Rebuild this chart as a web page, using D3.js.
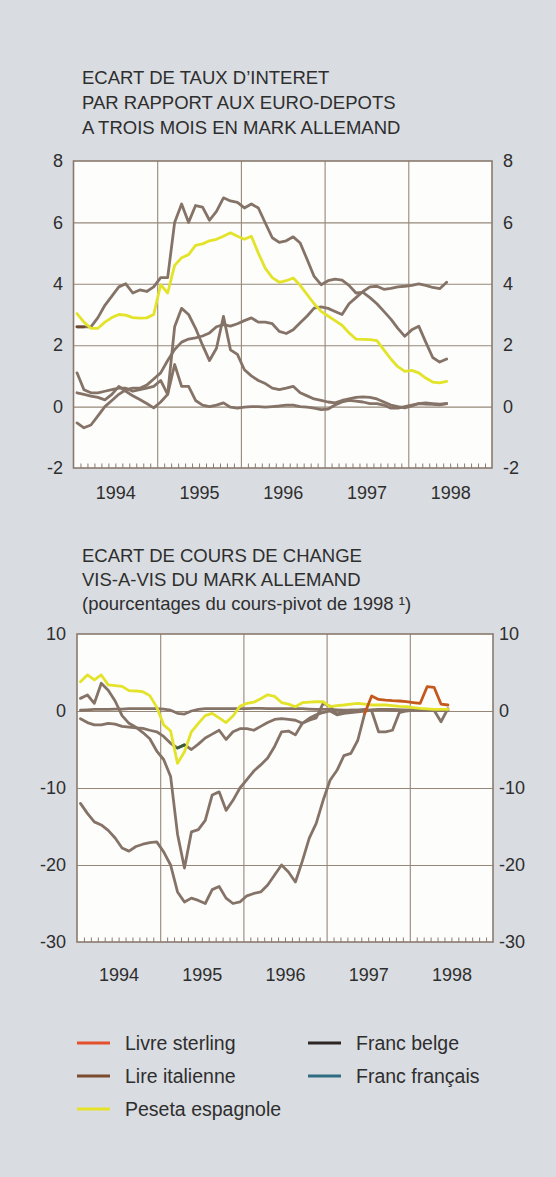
<!DOCTYPE html>
<html><head><meta charset="utf-8">
<script src="https://cdn.jsdelivr.net/npm/d3@7"></script>
<style>
body{margin:0;background:#d9dce1}
svg{display:block}
text{font-family:"Liberation Sans",Arial,Helvetica,sans-serif;fill:#2e2e2e}
</style></head>
<body><svg id="c" width="556" height="1177"></svg>
<script>
// ---------- DATA ----------
const startYear = 1994;
const yearLabels = [1994, 1995, 1996, 1997, 1998];
const topTicks = [8, 6, 4, 2, 0, -2];
const bottomTicks = [10, 0, -10, -20, -30];

const topTitle = ["ECART DE TAUX D\u2019INTERET", "PAR RAPPORT AUX EURO-DEPOTS", "A TROIS MOIS EN MARK ALLEMAND"];
const bottomTitle = ["ECART DE COURS DE CHANGE", "VIS-A-VIS DU MARK ALLEMAND", "(pourcentages du cours-pivot de 1998 \u00B9)"];

// Monthly values, Jan 1994 - Jun 1998
// Interest-rate differentials (percentage points)
const italyRate = [2.6,2.6,2.6,2.9,3.3,3.6,3.9,4.0,3.7,3.8, 3.75,3.9,4.2,4.2,6.0,6.6,6.0,6.55,6.5,6.07, 6.36,6.8,6.7,6.65,6.47,6.6,6.47,5.98,5.5,5.35, 5.4,5.53,5.33,4.79,4.24,3.97,4.1,4.15,4.12,3.95, 3.7,3.72,3.55,3.35,3.1,2.85,2.55,2.29,2.5,2.62, 2.1,1.6,1.45,1.55];
const spainRate = [3.03,2.75,2.55,2.55,2.75,2.9,3.0,2.98,2.9,2.88, 2.89,3.0,3.97,3.7,4.6,4.85,4.95,5.25,5.3,5.4, 5.45,5.55,5.66,5.55,5.45,5.55,5.0,4.5,4.2,4.05, 4.1,4.19,3.95,3.65,3.35,3.1,2.95,2.8,2.65,2.4, 2.2,2.19,2.18,2.15,1.85,1.55,1.3,1.15,1.18,1.1, 0.93,0.8,0.77,0.82];
const ukRate = [-0.53,-0.69,-0.6,-0.3,0.0,0.2,0.4,0.55,0.6,0.6, 0.7,0.9,1.1,1.5,1.86,2.1,2.2,2.24,2.3,2.4, 2.6,2.67,2.62,2.7,2.8,2.89,2.75,2.75,2.7,2.45, 2.38,2.5,2.73,2.95,3.21,3.25,3.2,3.1,3.0,3.35, 3.55,3.75,3.9,3.92,3.82,3.85,3.9,3.92,3.95,4.0, 3.95,3.88,3.84,4.05];
const franceRate = [0.45,0.4,0.34,0.3,0.22,0.4,0.66,0.5,0.35,0.23, 0.1,-0.04,0.15,0.4,2.6,3.2,3.0,2.55,2.0,1.5, 1.9,2.94,1.85,1.7,1.2,1.0,0.85,0.75,0.6,0.55, 0.6,0.66,0.45,0.35,0.25,0.2,0.15,0.12,0.2,0.25, 0.3,0.32,0.3,0.25,0.15,0.05,0.0,-0.04,0.02,0.1, 0.12,0.1,0.08,0.1];
const belgiumRate = [1.1,0.55,0.45,0.45,0.5,0.55,0.6,0.6,0.5,0.55, 0.6,0.66,0.85,0.4,1.37,0.66,0.66,0.2,0.05,0.0, 0.05,0.12,-0.02,-0.05,-0.02,0.0,0.0,-0.02,0.0,0.02, 0.05,0.05,0.0,-0.02,-0.05,-0.1,-0.08,0.05,0.15,0.2, 0.18,0.15,0.1,0.1,0.05,-0.05,-0.05,0.0,0.05,0.1, 0.08,0.07,0.06,0.1];

// Exchange-rate deviations (% of 1998 central rate)
const sterlingFx = [-12,-13.3,-14.4,-14.8,-15.5,-16.5,-17.8,-18.2,-17.6,-17.3, -17.1,-17.0,-18.3,-20.0,-23.5,-24.8,-24.3,-24.6,-25,-23.2, -22.8,-24.3,-25,-24.8,-24.0,-23.7,-23.5,-22.6,-21.3,-20.0, -20.9,-22.2,-19.5,-16.5,-14.6,-11.6,-9.0,-7.7,-5.8,-5.5, -3.8,-0.3,1.95,1.5,1.4,1.34,1.3,1.21,1.1,1.0, 3.16,3.08,0.9,0.78];
const liraFx = [1.64,2.08,1.0,3.6,2.7,1.3,-0.6,-1.6,-2.1,-2.8, -3.6,-5.2,-6.3,-8.5,-16.0,-20.4,-15.7,-15.4,-14.2,-10.9, -10.5,-12.9,-11.6,-10.0,-8.9,-7.8,-7.0,-6.1,-4.6,-2.7, -2.6,-3.1,-1.6,-1.2,-0.9,1.0,0.6,-0.4,0.0,0.1, 0.1,0.2,0.0,-2.7,-2.7,-2.5,-0.2,0.0,0.1,0.2, 0.2,0.1,-1.4,0.3];
const francFx = [-1.0,-1.5,-1.8,-1.8,-1.6,-1.7,-2.0,-2.1,-2.2,-2.25, -2.5,-2.7,-3.3,-4.2,-4.8,-4.4,-5.0,-4.3,-3.5,-3.0, -2.5,-3.7,-2.7,-2.3,-2.3,-2.5,-2.0,-1.5,-1.1,-1.0, -1.1,-1.2,-1.6,-0.95,-0.5,-0.2,0.0,-0.5,-0.3,-0.2, -0.1,0.0,0.1,0.2,0.2,0.2,0.15,0.1,0.1,0.1, 0.1,0.1,0.1,0.1];
const belgeFx = [0.1,0.15,0.2,0.2,0.2,0.25,0.25,0.3,0.3,0.3, 0.3,0.3,0.25,0.1,-0.3,-0.4,0.0,0.2,0.3,0.3, 0.3,0.3,0.3,0.3,0.3,0.35,0.35,0.3,0.3,0.3, 0.3,0.3,0.3,0.25,0.2,0.2,0.2,0.15,0.1,0.1, 0.1,0.1,0.15,0.15,0.15,0.1,0.1,0.1,0.1,0.1, 0.1,0.1,0.1,0.1];
const pesetaFx = [3.8,4.68,4.03,4.68,3.4,3.3,3.2,2.64,2.6,2.5, 2.0,0.5,-1.8,-2.6,-6.8,-5.3,-2.7,-1.6,-0.6,-0.3, -0.9,-1.5,-0.65,0.6,1.0,1.15,1.6,2.1,1.9,1.1, 0.9,0.56,1.08,1.15,1.2,1.2,0.56,0.7,0.78,0.9, 1.0,0.9,0.78,0.78,0.78,0.7,0.6,0.56,0.45,0.35, 0.28,0.22,0.22,0.22];

const legendLabels = ["Livre sterling", "Lire italienne", "Peseta espagnole", "Franc belge", "Franc fran\u00E7ais"];
const legendColors = ["#e4502c", "#7a4b2f", "#e6e22a", "#2d2624", "#2f6c82"];

// ---------- STYLE ----------
const C = {
  bg: "#d9dce1", plot: "#fdfdfc", frame: "#8a7a6e", grid: "#968779",
  line: "#857367", yellow: "#e3e32a", orange: "#c4581d", green: "#3b5a3c", text: "#2e2e2e"
};
const sterlingOrangeFrom = 41;   // index where sterling switches to its printed orange
const francGreen = [13, 16];     // index range where the franc français shows dark green

const svg = d3.select("#c");
svg.append("rect").attr("width", 556).attr("height", 1177).attr("fill", C.bg);

const monthPos = i => startYear + (i + 0.5) / 12;

function title(lines, x, y0, dy) {
  const t = svg.append("g");
  lines.forEach((s, i) => t.append("text").attr("x", x).attr("y", y0 + i * dy)
    .attr("font-size", 18.5).text(s));
}

function panel(cfg) {
  const x = d3.scaleLinear().domain([1994, 1999]).range([cfg.x0, cfg.x1]);
  const y = d3.scaleLinear().domain([cfg.ticks[cfg.ticks.length - 1], cfg.ticks[0]]).range([cfg.y1, cfg.y0]);
  const g = svg.append("g");
  g.append("rect").attr("x", cfg.x0).attr("y", cfg.y0).attr("width", cfg.x1 - cfg.x0)
    .attr("height", cfg.y1 - cfg.y0).attr("fill", C.plot);

  const hg = g.append("g").attr("transform", `translate(${cfg.x0},0)`)
    .call(d3.axisLeft(y).tickValues(cfg.ticks.slice(1, -1)).tickSize(-(cfg.x1 - cfg.x0)).tickFormat(""));
  hg.select(".domain").remove();
  hg.selectAll("line").attr("stroke", C.grid).attr("stroke-width", 1.1);
  const vg = g.append("g").attr("transform", `translate(0,${cfg.y1})`)
    .call(d3.axisBottom(x).tickValues(yearLabels.slice(1)).tickSize(-(cfg.y1 - cfg.y0)).tickFormat(""));
  vg.select(".domain").remove();
  vg.selectAll("line").attr("stroke", C.grid).attr("stroke-width", 1.1);
  const monthTicks = d3.range(1, 60).filter(m => m % 12).map(m => startYear + m / 12);
  const mt = g.append("g").attr("transform", `translate(0,${cfg.y1})`)
    .call(d3.axisTop(x).tickValues(monthTicks).tickSize(4.5).tickFormat(""));
  mt.select(".domain").remove();
  mt.selectAll("line").attr("stroke", C.frame).attr("stroke-width", 1);

  g.append("rect").attr("x", cfg.x0).attr("y", cfg.y0).attr("width", cfg.x1 - cfg.x0)
    .attr("height", cfg.y1 - cfg.y0).attr("fill", "none").attr("stroke", C.frame).attr("stroke-width", 1.6);

  const fmt = d => String(d);
  const la = svg.append("g").attr("transform", `translate(${cfg.x0},0)`)
    .call(d3.axisLeft(y).tickValues(cfg.ticks).tickSize(0).tickPadding(cfg.padL).tickFormat(fmt));
  const ra = svg.append("g").attr("transform", `translate(${cfg.x1},0)`)
    .call(d3.axisRight(y).tickValues(cfg.ticks).tickSize(0).tickPadding(cfg.padR).tickFormat(fmt));
  [la, ra].forEach(a => {
    a.select(".domain").remove();
    a.selectAll("text").attr("font-size", 18).attr("font-family", null).style("fill", C.text);
  });
  const xa = svg.append("g").attr("transform", `translate(0,${cfg.y1})`)
    .call(d3.axisBottom(x).tickValues(yearLabels.map(v => v + 0.5)).tickSize(0)
      .tickPadding(cfg.padB).tickFormat(d => String(Math.floor(d))));
  xa.select(".domain").remove();
  xa.selectAll("text").attr("font-size", 18).attr("font-family", null).style("fill", C.text);

  return { x, y, g };
}

function drawLine(p, values, color, from, to, width) {
  const idx = d3.range(from ?? 0, (to ?? values.length - 1) + 1);
  const line = d3.line().x(i => p.x(monthPos(i))).y(i => p.y(values[i])).curve(d3.curveLinear);
  svg.append("path").datum(idx).attr("d", line).attr("fill", "none")
    .attr("stroke", color).attr("stroke-width", width || 2.8)
    .attr("stroke-linejoin", "round").attr("stroke-linecap", "round");
}

// ---------- TOP PANEL ----------
title(topTitle, 82, 84, 25);
const topP = panel({ x0: 73.5, x1: 492, y0: 161, y1: 468, ticks: topTicks, padL: 10.5, padR: 11, padB: 18.5 });
drawLine(topP, belgiumRate, C.line);
drawLine(topP, franceRate, C.line);
drawLine(topP, ukRate, C.line);
drawLine(topP, italyRate, C.line);
drawLine(topP, italyRate, "#6e4a30", 0, 1);
drawLine(topP, spainRate, C.yellow);

// ---------- BOTTOM PANEL ----------
title(bottomTitle, 82, 562, 24);
const botP = panel({ x0: 77, x1: 493, y0: 634, y1: 942, ticks: bottomTicks, padL: 11, padR: 6, padB: 26 });
drawLine(botP, sterlingFx, C.line, 0, sterlingOrangeFrom);
drawLine(botP, liraFx, C.line);
drawLine(botP, francFx, C.line);
drawLine(botP, belgeFx, C.line);
drawLine(botP, pesetaFx, C.yellow);
drawLine(botP, francFx, C.green, francGreen[0] + 1, francGreen[1] - 1);
drawLine(botP, sterlingFx, C.orange, sterlingOrangeFrom);

// ---------- LEGEND ----------
const legendPos = [[77, 1043], [77, 1076], [77, 1109], [308, 1043], [308, 1076]];
const lg = svg.append("g");
legendLabels.forEach((lab, i) => {
  const [lx, ly] = legendPos[i];
  lg.append("line").attr("x1", lx).attr("x2", lx + 33).attr("y1", ly).attr("y2", ly)
    .attr("stroke", legendColors[i]).attr("stroke-width", 3);
  lg.append("text").attr("x", lx + 48).attr("y", ly + 6.5).attr("font-size", 19.5).text(lab);
});
</script></body></html>
